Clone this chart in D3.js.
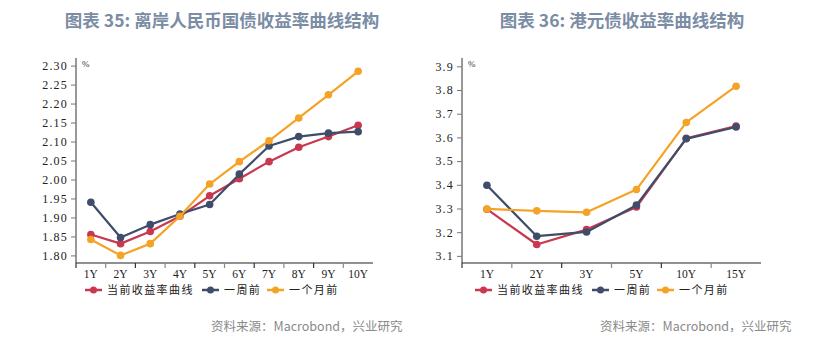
<!DOCTYPE html>
<html><head><meta charset="utf-8">
<script src="https://cdn.jsdelivr.net/npm/d3@7"></script>
<style>
html,body{margin:0;padding:0;background:#fff;}
svg{display:block;}
</style></head>
<body>
<svg id="c" width="840" height="343"></svg>
<script>
// ---- data ----
const titleLeft = "图表 35: 离岸人民币国债收益率曲线结构";
const titleRight = "图表 36: 港元债收益率曲线结构";
const sourceText = "资料来源：Macrobond，兴业研究";
const seriesNames = ["当前收益率曲线", "一周前", "一个月前"];

const leftCats = ["1Y","2Y","3Y","4Y","5Y","6Y","7Y","8Y","9Y","10Y"];
const leftCurrent = [1.855,1.831,1.863,1.903,1.957,2.002,2.047,2.085,2.113,2.143];
const leftWeek    = [1.940,1.847,1.881,1.909,1.934,2.014,2.088,2.113,2.122,2.126];
const leftMonth   = [1.842,1.800,1.831,1.903,1.988,2.047,2.102,2.162,2.223,2.285];
const leftTicks   = [1.80,1.85,1.90,1.95,2.00,2.05,2.10,2.15,2.20,2.25,2.30];

const rightCats = ["1Y","2Y","3Y","5Y","10Y","15Y"];
const rightCurrent = [3.297,3.148,3.211,3.306,3.596,3.648];
const rightWeek    = [3.398,3.183,3.201,3.314,3.594,3.644];
const rightMonth   = [3.298,3.290,3.284,3.380,3.663,3.816];
const rightTicks   = [3.1,3.2,3.3,3.4,3.5,3.6,3.7,3.8,3.9];

const colors = ["#c8394f", "#3e4d69", "#f4a326"];

const svg = d3.select("#c");

function drawChart(o) {
  const g = svg.append("g");
  const x = d3.scaleBand().domain(o.cats).range([o.x0, o.x1]);
  const y = d3.scaleLinear().domain(o.ydom).range([o.yb, o.yt]);

  // title
  g.append("text").attr("x", o.tx).attr("y", 27)
    .attr("text-anchor","middle")
    .attr("font-family","'Noto Sans CJK SC','Noto Sans',sans-serif")
    .attr("font-weight","bold").attr("font-size",17.5).attr("fill","#7b8ca5")
    .text(o.title);

  // y axis
  const ya = g.append("g").attr("transform", `translate(${o.x0},0)`)
    .call(d3.axisLeft(y).tickValues(o.ticks).tickFormat(d3.format(o.fmt)).tickSizeOuter(0).tickSize(5).tickPadding(3));
  ya.select(".domain").attr("stroke","#333").attr("d", `M0,${o.yt}V${o.yb}`);
  ya.selectAll(".tick line").attr("stroke","#777");
  ya.selectAll(".tick text").attr("font-family","'Liberation Serif',serif")
    .attr("font-size",12).attr("fill","#222").attr("letter-spacing", "1.2px");

  // x axis
  const xa = g.append("g").attr("transform", `translate(0,${o.yb})`)
    .call(d3.axisBottom(x).tickSize(0).tickPadding(7));
  xa.select(".domain").attr("stroke","#222").attr("stroke-width",1.2).attr("d", `M${o.x0},0H${o.x1}`);
  xa.selectAll(".tick text").attr("font-family","'Liberation Serif',serif")
    .attr("font-size",11.5).attr("fill","#222");
  // boundary ticks
  g.append("g").selectAll("line").data(o.cats).join("line")
    .attr("x1", d => x(d)).attr("x2", d => x(d))
    .attr("y1", o.yb).attr("y2", o.yb + 5)
    .attr("stroke", (d,i) => i % 2 ? "#888" : "#333").attr("stroke-width",1.2);

  // % label
  g.append("text").attr("x", o.x0 + 6).attr("y", o.yt + 9)
    .attr("font-family","'Liberation Serif',serif").attr("font-size",9).attr("fill","#333").text("%");

  const line = d3.line().x((d,i) => x(o.cats[i]) + x.bandwidth()/2).y(d => y(d));
  o.series.forEach((s, k) => {
    g.append("path").datum(s).attr("d", line).attr("fill","none")
      .attr("stroke", colors[k]).attr("stroke-width",2.2).attr("stroke-linejoin","round");
    g.append("g").selectAll("circle").data(s).join("circle")
      .attr("cx", (d,i) => x(o.cats[i]) + x.bandwidth()/2).attr("cy", d => y(d))
      .attr("r", 3.8).attr("fill", colors[k]);
  });

  // legend
  const lg = g.append("g");
  o.legX.forEach((lx, k) => {
    lg.append("line").attr("x1", lx).attr("x2", lx + 17).attr("y1", o.legY).attr("y2", o.legY)
      .attr("stroke", colors[k]).attr("stroke-width",2.5);
    lg.append("circle").attr("cx", lx + 8.5).attr("cy", o.legY).attr("r", 3.5).attr("fill", colors[k]);
    lg.append("text").attr("x", lx + 22).attr("y", o.legY + 4)
      .attr("font-family","'Noto Sans CJK SC',sans-serif").attr("font-size",11)
      .attr("letter-spacing","1.4px").attr("fill","#222").text(seriesNames[k]);
  });

  // source
  g.append("text").attr("x", o.srcX).attr("y", 331)
    .attr("font-family","'Noto Sans CJK SC','Noto Sans',sans-serif").attr("font-size",12.5)
    .attr("fill","#8a8a8a").text(sourceText);
}

drawChart({
  title: titleLeft, tx: 222, cats: leftCats, x0: 76, x1: 373, yt: 58, yb: 263,
  ydom: [1.78, 2.32], ticks: leftTicks, fmt: ".2f",
  series: [leftCurrent, leftWeek, leftMonth],
  legX: [85, 202, 267], legY: 290, srcX: 211
});
drawChart({
  title: titleRight, tx: 622, cats: rightCats, x0: 462, x1: 761, yt: 58, yb: 263,
  ydom: [3.07, 3.935], ticks: rightTicks, fmt: ".1f",
  series: [rightCurrent, rightWeek, rightMonth],
  legX: [475, 592, 657], legY: 290, srcX: 600
});
</script>
</body></html>
